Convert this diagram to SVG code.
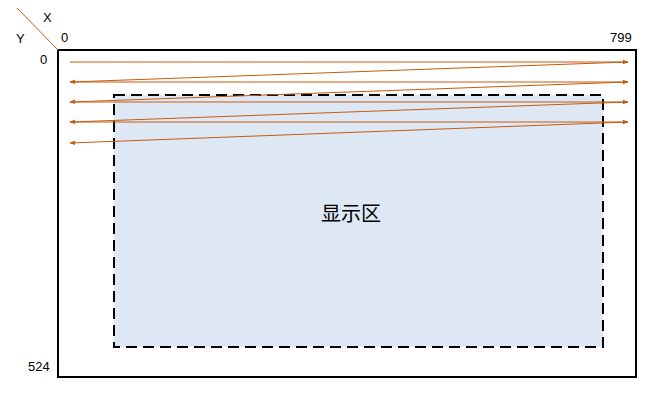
<svg xmlns="http://www.w3.org/2000/svg" width="657" height="401" viewBox="0 0 657 401">
<defs>
<marker id="ah" viewBox="0 0 10 10" refX="9" refY="5" markerWidth="6" markerHeight="6" markerUnits="userSpaceOnUse" orient="auto">
<path d="M0,1 L10,5 L0,9 Z" fill="#C55A11"/>
</marker>
<style>
.lbl{font-family:"Liberation Sans","Open Sans",sans-serif;font-size:13px;fill:#000}
.ln{stroke:#C55A11;stroke-width:1;fill:none;marker-end:url(#ah)}
</style>
</defs>
<rect width="657" height="401" fill="#fff"/>
<g id="screen">
<rect x="58" y="50" width="578" height="327" fill="none" stroke="#000" stroke-width="2"/>
</g>
<g id="display-area">
<rect x="114" y="95" width="489" height="252" fill="#DEE8F4" stroke="#000" stroke-width="2" stroke-dasharray="11,6"/>
<text x="351" y="221" text-anchor="middle" font-family="'Noto Sans CJK SC',sans-serif" font-size="20" fill="#000">显示区</text>
</g>
<g id="axes">
<line x1="17" y1="8" x2="58" y2="50" stroke="#C55A11" stroke-width="1"/>
<text class="lbl" x="43" y="22">X</text>
<text class="lbl" x="16" y="43">Y</text>
<text class="lbl" x="61" y="42">0</text>
<text class="lbl" x="40" y="64">0</text>
<text class="lbl" x="610" y="42">799</text>
<text class="lbl" x="28" y="371">524</text>
</g>
<g id="connectors">
<line class="ln" x1="70" y1="62" x2="628" y2="62"/>
<line class="ln" x1="628" y1="62" x2="70" y2="82"/>
<line class="ln" x1="70" y1="82" x2="628" y2="82"/>
<line class="ln" x1="628" y1="82" x2="70" y2="102"/>
<line class="ln" x1="70" y1="102" x2="628" y2="102"/>
<line class="ln" x1="628" y1="102" x2="70" y2="122"/>
<line class="ln" x1="70" y1="122" x2="628" y2="122"/>
<line class="ln" x1="628" y1="122" x2="70" y2="143"/>
</g>
</svg>
